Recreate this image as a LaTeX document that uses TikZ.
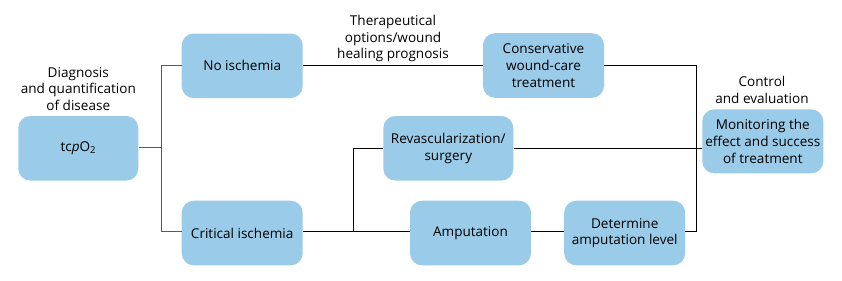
\documentclass[tikz,border=0pt]{standalone}
\usepackage{fontspec}
\setmainfont{Open Sans}
\definecolor{boxblue}{HTML}{9ACBE8}
\definecolor{linegray}{HTML}{5A5A5A}
\begin{document}
\begin{tikzpicture}[x=1bp,y=-1bp,
  box/.style={fill=boxblue,rounded corners=12bp,align=center,inner sep=1bp,minimum width=121bp,minimum height=64.6bp,font=\fontsize{13.6}{16.7}\selectfont},
  lbl/.style={align=center,inner sep=1bp,font=\fontsize{13.6}{16.7}\selectfont},
  conn/.style={draw=black,line width=1bp},
  gconn/.style={draw=linegray,line width=1.4bp}]
\useasboundingbox (0,0) rectangle (842,280);
\node[box,minimum width=120bp] (tc) at (78.3,148.3) {tc\textit{p}O\textsubscript{2}};
\node[box] (no) at (242.2,65.8) {No ischemia};
\node[box] (crit) at (242.2,233) {Critical ischemia};
\node[box] (cons) at (543.5,65.5) {Conservative\\wound-care\\treatment};
\node[box,minimum width=130bp] (rev) at (448.3,148.3) {Revascularization/\\surgery};
\node[box] (amp) at (470.5,233) {Amputation};
\node[box] (det) at (624.7,233) {Determine\\amputation level};
\node[box,minimum height=64bp] (mon) at (762.8,141.3) {Monitoring the\\effect and success\\of treatment};
\node[lbl] (l1) at (78.3,89) {Diagnosis\\and quantification\\of disease};
\node[lbl] (l2) at (393,38.5) {Therapeutical\\options/wound\\healing prognosis};
\node[lbl] (l3) at (762,90) {Control\\and evaluation};
\coordinate (j1) at (161.7,147.7);
\coordinate (j3) at (353.3,231.3);
\coordinate (j2) at (696.7,231.3);
\coordinate (yt) at (0,65.3);
\coordinate (ym) at (0,148.3);
\draw[gconn] (tc.east |- j1) -- (j1);
\draw[gconn] (no.west |- yt) -| (j1) |- (crit.west |- j3);
\draw[conn] (no.east |- yt) -- (cons.west |- yt);
\draw[conn] (cons.east |- yt) -| (j2) -- (j2 -| det.east);
\draw[conn] (crit.east |- j3) -- (j3 -| amp.west);
\draw[conn] (j3) |- (rev.west |- ym);
\draw[conn] (rev.east |- ym) -- (mon.west |- ym);
\draw[conn] (amp.east |- j3) -- (det.west |- j3);
\end{tikzpicture}
\end{document}
